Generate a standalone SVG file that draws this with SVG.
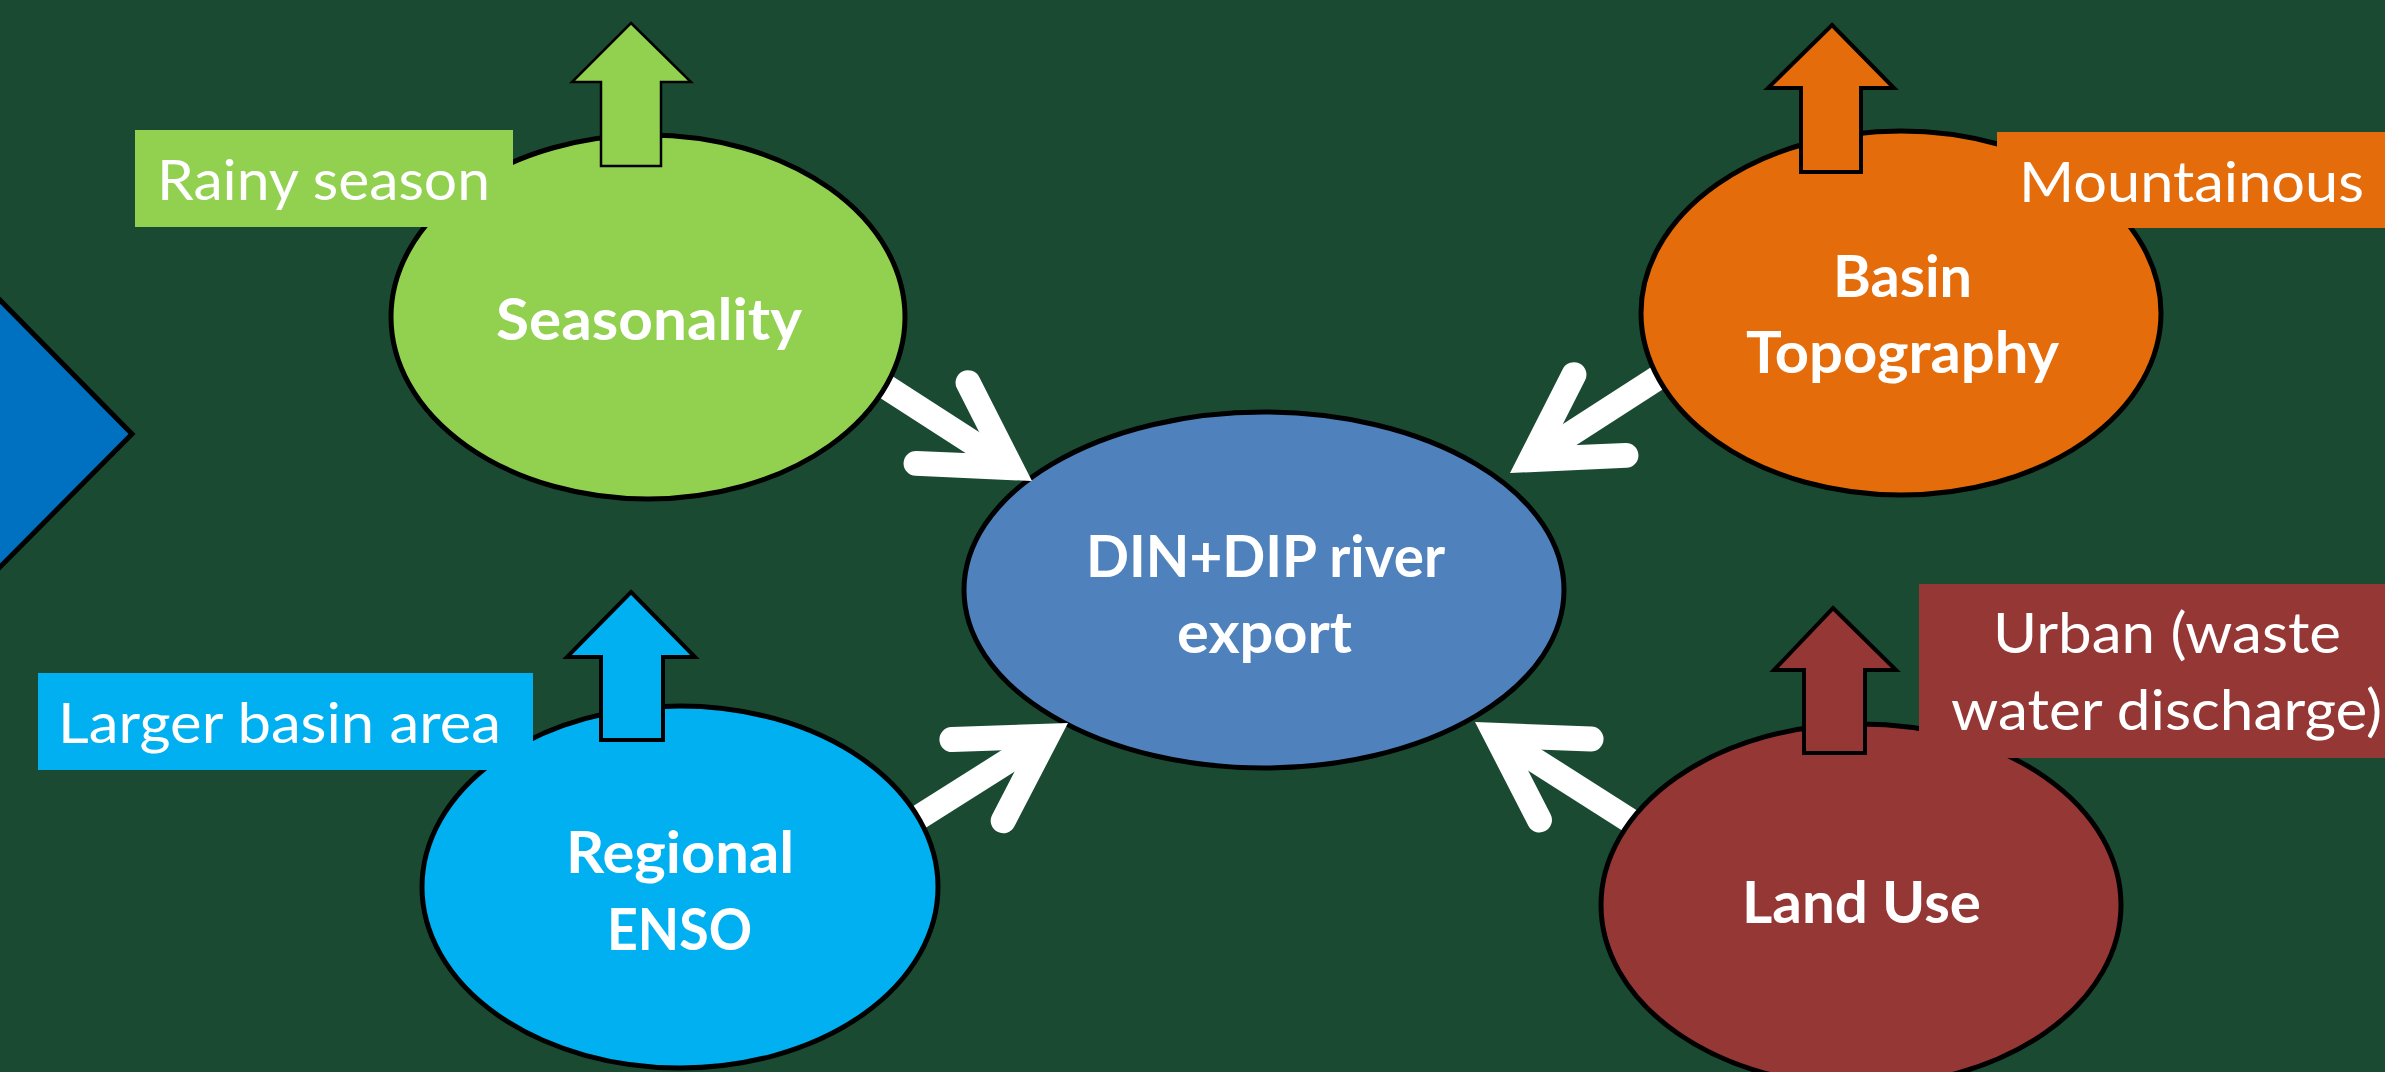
<svg xmlns="http://www.w3.org/2000/svg" xmlns:xlink="http://www.w3.org/1999/xlink" width="2385" height="1072" viewBox="0 0 2385 1072">
  <style>
    .ell { stroke: #000; stroke-width: 5; }
    .up { stroke: #000; stroke-width: 4; stroke-linejoin: miter; }
    .lbl { font-family: Lato, "Liberation Sans", sans-serif; font-size: 56px; fill: #fff; }
    .bold { font-family: Lato, "Liberation Sans", sans-serif; font-size: 58px; font-weight: bold; fill: #fff; }
    .wline { stroke: #fff; stroke-width: 25; fill: none; }
  </style>
  <defs>
    <g id="wa">
      <line class="wline" x1="-215" y1="0" x2="-30" y2="0"/>
      <polyline class="wline" points="-107,-48 -24.8,0 -107,48" stroke-linecap="round" stroke-linejoin="miter" stroke-miterlimit="10"/>
    </g>
  </defs>
  <rect x="0" y="0" width="2385" height="1072" fill="#1B4A33"/>

  <g id="side-shape">
    <polygon points="-10,290 132,434 -10,577" fill="#0070C0" stroke="#000" stroke-width="5"/>
  </g>

  <g id="center">
    <ellipse class="ell" cx="1264" cy="590" rx="300" ry="178" fill="#4F81BD"/>
    <text class="bold" x="1086" y="577" textLength="359" lengthAdjust="spacingAndGlyphs">DIN+DIP river</text>
    <text class="bold" x="1177" y="653" textLength="175" lengthAdjust="spacingAndGlyphs">export</text>
  </g>

  <g id="connectors">
    <use xlink:href="#wa" transform="translate(1032,481) rotate(32.8)"/>
    <use xlink:href="#wa" transform="translate(1510,473) rotate(147.2)"/>
    <use xlink:href="#wa" transform="translate(1068,723) rotate(-32.3)"/>
    <use xlink:href="#wa" transform="translate(1475,722) rotate(-147.5)"/>
  </g>

  <g id="seasonality">
    <ellipse class="ell" cx="648" cy="317" rx="257" ry="182" fill="#92D050"/>
    <polygon class="up" style="stroke-width:2.5" points="631,23 691,82 661,82 661,166 601,166 601,82 572,82" fill="#92D050"/>
    <text class="bold" x="496" y="340" textLength="306" lengthAdjust="spacingAndGlyphs">Seasonality</text>
    <rect x="135" y="130" width="378" height="97" fill="#92D050"/>
    <text class="lbl" x="157" y="200" textLength="333" lengthAdjust="spacingAndGlyphs">Rainy season</text>
  </g>

  <g id="basin-topography">
    <ellipse class="ell" cx="1901" cy="313" rx="260" ry="182" fill="#E46C0A"/>
    <polygon class="up" points="1832,25 1894,88 1861,88 1861,172 1801,172 1801,88 1768,88" fill="#E46C0A"/>
    <text class="bold" x="1833" y="297" textLength="139" lengthAdjust="spacingAndGlyphs">Basin</text>
    <text class="bold" x="1746" y="373" textLength="313" lengthAdjust="spacingAndGlyphs">Topography</text>
    <rect x="1997" y="132" width="400" height="96" fill="#E46C0A"/>
    <text class="lbl" x="2019" y="202" textLength="345" lengthAdjust="spacingAndGlyphs">Mountainous</text>
  </g>

  <g id="regional-enso">
    <ellipse class="ell" cx="680" cy="887" rx="258" ry="181" fill="#00B0F0"/>
    <polygon class="up" points="631,592 695,657 663,657 663,740 601,740 601,657 567,657" fill="#00B0F0"/>
    <text class="bold" x="566" y="873" textLength="228" lengthAdjust="spacingAndGlyphs">Regional</text>
    <text class="bold" x="607" y="950" textLength="145" lengthAdjust="spacingAndGlyphs">ENSO</text>
    <rect x="38" y="673" width="495" height="97" fill="#00B0F0"/>
    <text class="lbl" x="58" y="743" textLength="443" lengthAdjust="spacingAndGlyphs">Larger basin area</text>
  </g>

  <g id="land-use">
    <ellipse class="ell" cx="1861" cy="905" rx="260" ry="181" fill="#953735"/>
    <polygon class="up" points="1833,608 1896,670 1865,670 1865,753 1804,753 1804,670 1774,670" fill="#953735"/>
    <text class="bold" x="1742" y="923" textLength="239" lengthAdjust="spacingAndGlyphs">Land Use</text>
    <rect x="1919" y="584" width="480" height="174" fill="#953735"/>
    <text class="lbl" x="1993" y="653" textLength="348" lengthAdjust="spacingAndGlyphs">Urban (waste</text>
    <text class="lbl" x="1951" y="730" textLength="431" lengthAdjust="spacingAndGlyphs">water discharge)</text>
  </g>
</svg>
